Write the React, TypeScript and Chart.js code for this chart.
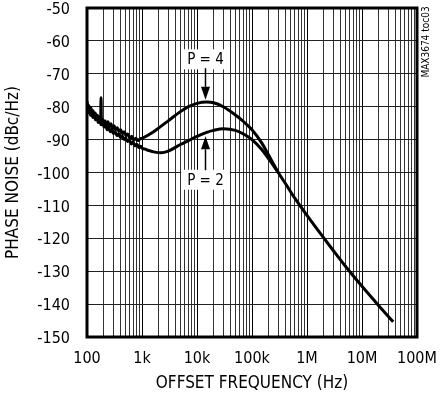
import React, { useEffect, useRef } from "react";
import { Chart, registerables } from "chart.js";

Chart.register(...registerables);

const FONT = "'Liberation Sans Narrow', 'Arial Narrow', 'DejaVu Sans Condensed', sans-serif";

// P = 4 curve (offset frequency in Hz, phase noise in dBc/Hz)
const freqP4 = [
  100, 104, 108, 113, 118, 123, 129, 135, 141, 148, 155, 163, 171, 177, 180, 183, 190, 200, 212, 225,
  240, 255, 272, 290, 310, 332, 355, 380, 410, 440, 475, 510, 550, 600, 650, 710, 770, 840, 920, 1000,
  1500, 2000, 3000, 5000, 7000, 10000, 15000, 20000, 30000, 50000, 70000, 100000,
  150000, 200000, 300000, 400000, 600000, 1000000, 2000000, 3000000, 5000000, 10000000, 20000000, 37000000,
];
const dbP4 = [
  -78.3, -80.2, -79.6, -81.3, -80.4, -82.0, -81.2, -82.8, -81.9, -83.4, -82.6, -84.0, -83.2, -84.3, -77.3, -84.5, -83.8, -85.0, -84.3, -85.5,
  -84.6, -86.0, -85.2, -86.5, -85.8, -87.0, -86.4, -87.5, -87.0, -88.2, -87.6, -88.8, -88.3, -89.6, -89.0, -90.2, -89.6, -90.3, -89.8, -89.6,
  -88, -86.5, -84.3, -81.5, -80, -79, -78.6, -78.8, -80, -82.5, -84.5, -87,
  -91, -94.7, -100.0, -103.2, -107.8, -113.0, -119.8, -123.7, -128.5, -134.6, -140.4, -145.4,
];

// P = 2 curve
const freqP2 = [
  100, 105, 110, 116, 122, 128, 135, 143, 151, 160, 170, 180, 192, 205, 218, 232, 248, 265, 283, 302,
  325, 350, 377, 405, 437, 470, 505, 545, 590, 640, 690, 750, 810, 880, 950, 1000, 1150, 1300,
  1700, 2200, 3000, 5000, 7000, 10000, 15000, 20000, 30000, 50000, 70000, 100000, 150000, 200000, 300000,
];
const dbP2 = [
  -80.5, -81.8, -81.0, -82.6, -81.8, -83.3, -82.5, -84.0, -83.2, -84.8, -84.0, -85.5, -84.7, -86.2, -85.5, -87.0, -86.2, -87.6, -86.9, -88.2,
  -87.6, -88.8, -88.2, -89.4, -88.8, -90.0, -89.5, -90.6, -90.1, -91.3, -90.8, -91.9, -91.4, -92.4, -92.0, -92.6, -92.9, -93.3,
  -93.8, -94, -93.5, -91.5, -90.3, -89, -87.8, -87.2, -86.7, -87.2, -88.3, -90, -93, -95.8, -100.0,
];

const xDecades = [100, 1e3, 1e4, 1e5, 1e6, 1e7, 1e8];
const xDecadeLabels = ["100", "1k", "10k", "100k", "1M", "10M", "100M"];
const yMin = -150;
const yMax = -50;
const yStep = 10;

const annotations = [
  { text: "P = 4", freq: 14000, labelDb: -65.6, tailDb: -68.3, tipDb: -77.9 },
  { text: "P = 2", freq: 14000, labelDb: -102.2, tailDb: -99.3, tipDb: -89.0 },
];
const sideNote = "MAX3674 toc03";

function buildLogTicks(): number[] {
  const out: number[] = [];
  for (let d = 0; d < xDecades.length - 1; d++) {
    for (let m = 1; m < 10; m++) out.push(xDecades[d] * m);
  }
  out.push(xDecades[xDecades.length - 1]);
  return out;
}

const overlayPlugin = {
  id: "overlay",
  afterDatasetsDraw(chart: any) {
    const { ctx, chartArea, scales } = chart;
    const xs = scales.x;
    const ys = scales.y;
    ctx.save();
    annotations.forEach((a) => {
      const px = Math.round(xs.getPixelForValue(a.freq)) + 0.5;
      const ly = ys.getPixelForValue(a.labelDb);
      ctx.font = `15px ${FONT}`;
      const w = ctx.measureText(a.text).width;
      ctx.fillStyle = "#fff";
      ctx.fillRect(px - w / 2 - 6, ly - 10, w + 12, 20);
      ctx.fillStyle = "#000";
      ctx.textAlign = "center";
      ctx.textBaseline = "middle";
      ctx.fillText(a.text, px, ly + 1);
      const y0 = ys.getPixelForValue(a.tailDb);
      const y1 = ys.getPixelForValue(a.tipDb);
      const dir = y1 > y0 ? 1 : -1;
      const headLen = 13;
      ctx.strokeStyle = "#000";
      ctx.lineWidth = 1.5;
      ctx.beginPath();
      ctx.moveTo(px, y0);
      ctx.lineTo(px, y1 - dir * headLen);
      ctx.stroke();
      ctx.beginPath();
      ctx.moveTo(px, y1);
      ctx.lineTo(px - 4.5, y1 - dir * headLen);
      ctx.lineTo(px + 4.5, y1 - dir * headLen);
      ctx.closePath();
      ctx.fill();
    });
    ctx.strokeStyle = "#000";
    ctx.lineWidth = 3;
    ctx.strokeRect(chartArea.left, chartArea.top, chartArea.right - chartArea.left, chartArea.bottom - chartArea.top);
    ctx.translate(chartArea.right + 9, chartArea.top + 34);
    ctx.rotate(-Math.PI / 2);
    ctx.font = `10px ${FONT}`;
    ctx.fillStyle = "#000";
    ctx.textAlign = "center";
    ctx.textBaseline = "middle";
    ctx.fillText(sideNote, 0, 0);
    ctx.restore();
  },
};

export default function App() {
  const ref = useRef<HTMLCanvasElement | null>(null);
  useEffect(() => {
    if (!ref.current) return;
    const logTicks = buildLogTicks();
    const chart = new Chart(ref.current, {
      type: "line",
      data: {
        datasets: [
          {
            label: "P = 4",
            data: freqP4.map((f, i) => ({ x: f, y: dbP4[i] })),
            borderColor: "#000",
            borderWidth: 3,
            pointRadius: 0,
            cubicInterpolationMode: "monotone",
            fill: false,
          },
          {
            label: "P = 2",
            data: freqP2.map((f, i) => ({ x: f, y: dbP2[i] })),
            borderColor: "#000",
            borderWidth: 3,
            pointRadius: 0,
            cubicInterpolationMode: "monotone",
            fill: false,
          },
        ],
      },
      options: {
        responsive: false,
        animation: false,
        layout: { padding: { top: 8, right: 31, left: 0, bottom: 0 } },
        plugins: { legend: { display: false }, tooltip: { enabled: false } },
        scales: {
          x: {
            type: "logarithmic",
            min: xDecades[0],
            max: xDecades[xDecades.length - 1],
            afterBuildTicks: (s: any) => {
              s.ticks = logTicks.map((v) => ({ value: v }));
            },
            afterFit: (s: any) => {
              s.height = 63;
              s.paddingLeft = 0;
              s.paddingRight = 0;
            },
            grid: {
              drawTicks: false,
              color: (c: any) => (xDecades.includes(c.tick?.value) ? "#000" : "#333"),
              lineWidth: 1,
            },
            border: { display: false },
            ticks: {
              autoSkip: false,
              maxRotation: 0,
              minRotation: 0,
              padding: 12,
              color: "#000",
              font: { family: FONT, size: 16 },
              callback: (v: any) => {
                const i = xDecades.indexOf(Number(v));
                return i >= 0 ? xDecadeLabels[i] : "";
              },
            },
            title: {
              display: true,
              text: "OFFSET FREQUENCY (Hz)",
              color: "#000",
              font: { family: FONT, size: 17 },
              padding: { top: 0, bottom: 6 },
            },
          },
          y: {
            type: "linear",
            min: yMin,
            max: yMax,
            afterFit: (s: any) => {
              s.width = 87;
              s.paddingTop = 0;
              s.paddingBottom = 0;
            },
            grid: { drawTicks: false, color: "#222", lineWidth: 1 },
            border: { display: false },
            ticks: {
              stepSize: yStep,
              padding: 17,
              labelOffset: 2,
              color: "#000",
              font: { family: FONT, size: 16 },
            },
            title: {
              display: true,
              text: "PHASE NOISE (dBc/Hz)",
              color: "#000",
              font: { family: FONT, size: 17 },
              padding: { top: 3, bottom: 0 },
            },
          },
        },
      },
      plugins: [overlayPlugin],
    });
    return () => chart.destroy();
  }, []);
  return (
    <div style={{ position: "fixed", left: 0, top: 0, width: 448, height: 400, background: "#fff" }}>
      <canvas ref={ref} width={448} height={400} />
    </div>
  );
}
